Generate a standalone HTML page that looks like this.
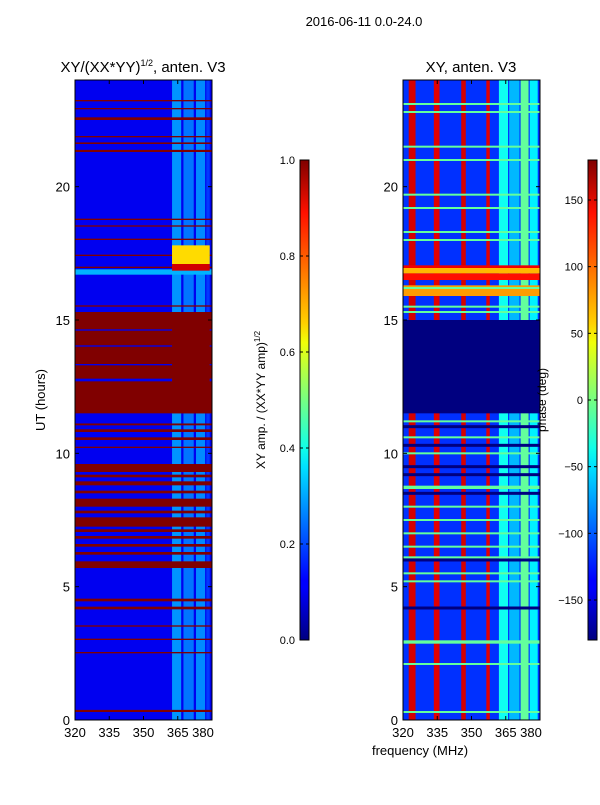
<!DOCTYPE html>
<html><head><meta charset="utf-8"><style>
html,body{margin:0;padding:0;background:#fff;}
svg text{font-family:"Liberation Sans","DejaVu Sans",sans-serif;fill:#000;}
</style></head><body>
<svg id="fig" width="600" height="800" viewBox="0 0 600 800" xmlns="http://www.w3.org/2000/svg">
<defs>
<linearGradient id="jet" x1="0" y1="1" x2="0" y2="0">
<stop offset="0" stop-color="#000080"/><stop offset="0.11" stop-color="#0000ff"/><stop offset="0.125" stop-color="#0000ff"/>
<stop offset="0.36" stop-color="#00e0ff"/><stop offset="0.4" stop-color="#10ffe8"/><stop offset="0.62" stop-color="#f0ff08"/>
<stop offset="0.66" stop-color="#ffd000"/><stop offset="0.89" stop-color="#ff1000"/><stop offset="1" stop-color="#800000"/>
</linearGradient>
</defs>
<text x="364" y="26" font-size="13" text-anchor="middle">2016-06-11 0.0-24.0</text>
<g id="left"></g>
<g id="right"></g>
<g id="cb1"></g>
<g id="cb2"></g>
<text x="420" y="755" font-size="13" text-anchor="middle">frequency (MHz)</text>
<text x="45" y="400" font-size="13" text-anchor="middle" transform="rotate(-90 45 400)">UT (hours)</text>
</svg>
<script>
// ---- data ----
const timeTicks=[0,5,10,15,20];
const freqTicks=[320,335,350,365,380];
const ampTicks=[0.0,0.2,0.4,0.6,0.8,1.0];
const phaseTicks=[-150,-100,-50,0,50,100,150];
const ampBackground=0.11;
// frequency bands with elevated amplitude [fStart,fEnd,value]
const ampFreqBands=[[362.5,366.5,0.27],[367.5,372,0.24],[373,377,0.26],[377.5,379,0.18]];
// full-width time bands of saturated amplitude [tStart,tEnd,value]
const ampTimeBands=[[11.5,12.7,1],[12.8,13.3,1],[13.35,14.0,1],[14.05,14.6,1],[14.65,15.3,1],
[0.3,0.38,1],[2.5,2.55,1],[3.0,3.05,1],[3.5,3.55,1],[4.15,4.25,1],[4.45,4.55,1],[5.7,5.95,1],
[6.2,6.3,1],[6.5,6.6,1],[6.8,6.9,1],[7.05,7.15,1],[7.25,7.6,1],[7.75,7.85,1],[8.0,8.3,1],[8.5,8.6,1],
[8.8,8.95,1],[9.1,9.2,1],[9.3,9.6,1],[10.2,10.25,1],[10.5,10.6,1],[10.8,10.9,1],[11.05,11.12,1],
[15.5,15.55,1],[16.95,17.0,1],[17.4,17.45,1],[18.0,18.05,1],[18.5,18.55,1],[18.75,18.8,1],
[21.3,21.38,1],[21.6,21.66,1],[21.85,21.9,1],[22.5,22.6,1],[22.9,22.95,1],[23.2,23.25,1]];
const ampCyanBand=[16.7,16.9,0.3];
// local patches [fStart,fEnd,tStart,tEnd,value]
const ampPatches=[[362.5,379,17.1,17.8,0.66],[362.5,379,16.85,17.1,0.92],[362.5,379,11.5,15.3,1]];
const phaseBackground=-118;
const phaseStripes=[[322.5,325.5,150],[333.5,336,145],[345.5,347.5,150],[356.5,358,145]];
const phaseRightCols=[[362,366,-40],[366.5,371,-70],[371.5,375,-10],[375.5,379,-50]];
const phaseDeadBand=[11.5,15.0,-180];
const phaseTimeBands=[[16.5,16.75,130],[16.75,16.95,70],[16.95,17.05,140],[15.9,16.3,80]];
const phaseGreenLines=[0.3,2.1,2.9,2.95,5.5,5.2,6.1,6.5,7.0,7.5,8.0,8.7,8.75,10.0,10.6,11.2,15.3,15.5,16.2,18.0,18.3,19.2,19.7,21.0,21.5,22.8,23.1];
const phaseDarkLines=[4.2,6.0,8.5,9.2,9.5,10.3,11.0];
// ---- axes ----
const NS="http://www.w3.org/2000/svg";
const T0=80,T1=720;
function yT(t){return T1-(t/24)*(T1-T0);}
function mkX(x0){return f=>x0+(f-320)*(137/60);}
function jet(v){v=Math.max(0,Math.min(1,v));
 const r=Math.max(0,Math.min(1,1.5-Math.abs(4*v-3))),g=Math.max(0,Math.min(1,1.5-Math.abs(4*v-2))),b=Math.max(0,Math.min(1,1.5-Math.abs(4*v-1)));
 return `rgb(${Math.round(r*255)},${Math.round(g*255)},${Math.round(b*255)})`;}
function ph(p){return jet((p+180)/360);}
function el(tag,at,parent){const e=document.createElementNS(NS,tag);for(const k in at)e.setAttribute(k,at[k]);parent.appendChild(e);return e;}
function rect(g,x,y,w,h,fill,name){const r=el('rect',{x:x,y:y,width:w,height:h,fill:fill},g);
 
 return r;}
function axes(g,x0,title){
 const xs=mkX(x0);
 el('rect',{x:x0,y:T0,width:137,height:640,fill:'none',stroke:'#000','stroke-width':1},g);
 timeTicks.forEach(t=>{const y=yT(t);el('line',{x1:x0,y1:y,x2:x0+4,y2:y,stroke:'#000'},g);el('line',{x1:x0+137,y1:y,x2:x0+133,y2:y,stroke:'#000'},g);
  const tx=el('text',{x:x0-5,y:y+5,'font-size':13,'text-anchor':'end'},g);tx.textContent=t;
  
  });
 freqTicks.forEach(f=>{const x=xs(f);el('line',{x1:x,y1:T1,x2:x,y2:T1-4,stroke:'#000'},g);el('line',{x1:x,y1:T0,x2:x,y2:T0+4,stroke:'#000'},g);
  const tx=el('text',{x:Math.min(x,x0+128),y:T1+17,'font-size':13,'text-anchor':'middle'},g);tx.textContent=f;
  
  });
 const tt=el('text',{x:x0+68,y:T0-8,'font-size':15,'text-anchor':'middle'},g);tt.innerHTML=title;
 
 
}
// left panel
(function(){const g=document.getElementById('left'),x0=75,xs=mkX(x0);
 rect(g,x0,T0,137,640,jet(ampBackground),'amp-background');
 ampFreqBands.forEach(b=>rect(g,xs(b[0]),T0,xs(b[1])-xs(b[0]),640,jet(b[2]),'amp-freq-band'));
 ampTimeBands.forEach(b=>rect(g,x0,yT(b[1]),137,yT(b[0])-yT(b[1]),jet(b[2]),'amp-time-band'));
 rect(g,x0,yT(ampCyanBand[1]),137,yT(ampCyanBand[0])-yT(ampCyanBand[1]),jet(ampCyanBand[2]),'amp-cyan-band');
 ampPatches.forEach(p=>rect(g,xs(p[0]),yT(p[3]),xs(p[1])-xs(p[0]),yT(p[2])-yT(p[3]),jet(p[4]),'amp-patch'));
 axes(g,x0,'XY/(XX*YY)<tspan font-size="9" dy="-6">1/2</tspan><tspan dy="6">, anten. V3</tspan>');
})();
// right panel
(function(){const g=document.getElementById('right'),x0=403,xs=mkX(x0);
 rect(g,x0,T0,137,640,ph(phaseBackground),'phase-background');
 phaseStripes.forEach(s=>rect(g,xs(s[0]),T0,xs(s[1])-xs(s[0]),640,ph(s[2]),'phase-stripe'));
 phaseRightCols.forEach(s=>rect(g,xs(s[0]),T0,xs(s[1])-xs(s[0]),640,ph(s[2]),'phase-right-column'));
 rect(g,x0,yT(phaseDeadBand[1]),137,yT(phaseDeadBand[0])-yT(phaseDeadBand[1]),ph(phaseDeadBand[2]),'phase-dead-band');
 phaseTimeBands.forEach(b=>rect(g,x0,yT(b[1]),137,yT(b[0])-yT(b[1]),ph(b[2]),'phase-time-band'));
 phaseDarkLines.forEach(t=>rect(g,x0,yT(t)-1.5,137,3,ph(-180),'phase-dark-line'));
 phaseGreenLines.forEach(t=>rect(g,x0,yT(t)-1,137,2,ph(-10),'phase-green-line'));
 axes(g,x0,'XY, anten. V3');
})();
// colorbars
function colorbar(g,x,ticks,vmin,vmax,fmt){
 const r=el('rect',{x:x,y:160,width:9,height:480,fill:'url(#jet)',stroke:'#000','stroke-width':1},g);
 
 
 ticks.forEach(v=>{const y=640-(v-vmin)/(vmax-vmin)*480;
  el('line',{x1:x,y1:y,x2:x+3,y2:y,stroke:'#000'},g);el('line',{x1:x+9,y1:y,x2:x+6,y2:y,stroke:'#000'},g);
  const tx=el('text',{x:x-5,y:y+4,'font-size':11,'text-anchor':'end'},g);tx.textContent=fmt(v);
  
  });
}
colorbar(document.getElementById('cb1'),300,ampTicks,0,1,v=>v.toFixed(1));
colorbar(document.getElementById('cb2'),588,phaseTicks,-180,180,v=>v<0?'\u2212'+(-v):String(v));
(function(){const g=document.getElementById('cb1');
 const t=el('text',{x:265,y:400,'font-size':12,'text-anchor':'middle',transform:'rotate(-90 265 400)'},g);
 t.innerHTML='XY amp. / (XX*YY amp)<tspan font-size="8" dy="-5">1/2</tspan>';
 
 
 const g2=document.getElementById('cb2');
 const t2=el('text',{x:546,y:400,'font-size':12,'text-anchor':'middle',transform:'rotate(-90 546 400)'},g2);
 t2.textContent='phase (deg)';
 
 
})();
</script>
</body></html>
